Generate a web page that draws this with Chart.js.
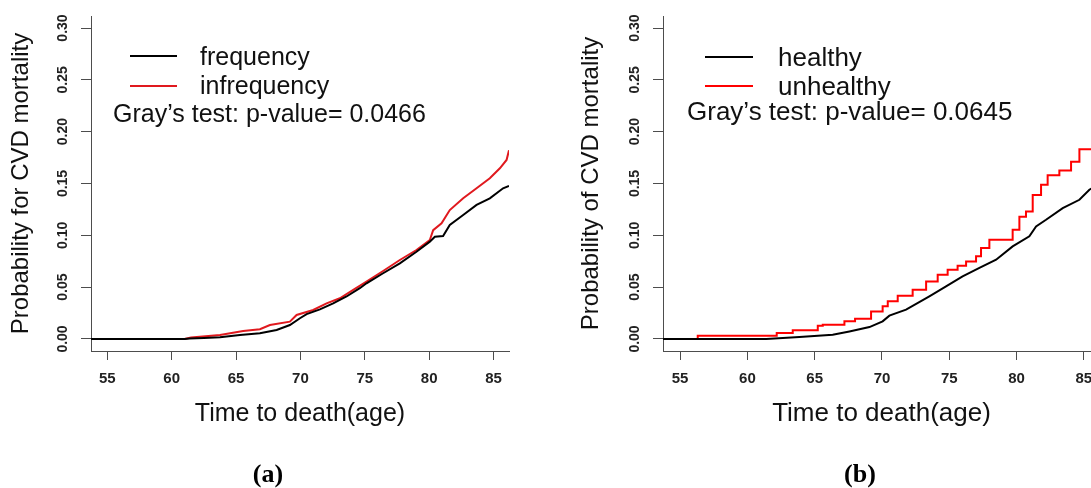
<!DOCTYPE html>
<html>
<head>
<meta charset="utf-8">
<script src="https://cdn.jsdelivr.net/npm/chart.js@4.4.1/dist/chart.umd.min.js"></script>
<style>
  html, body { margin: 0; padding: 0; background: #fff; width: 1091px; height: 488px; overflow: hidden; position: relative; }
  canvas { position: absolute; top: 0; }
  #chartA { left: 0; }
  #chartB { left: 570px; }
  .txt { position: absolute; font-family: "Liberation Sans", Arial, sans-serif; line-height: 1; color: #111; white-space: nowrap; }
  .key { position: absolute; height: 0; border-top: 2px solid #000; }
  .cap { position: absolute; font-family: "Liberation Serif", "Times New Roman", serif; font-weight: bold; font-size: 26px; line-height: 1; color: #000; transform: translateX(-50%); }
</style>
</head>
<body>
<canvas id="chartA" width="545" height="488"></canvas>
<canvas id="chartB" width="566" height="488"></canvas>

<!-- panel (a) key -->
<div class="key" style="left:130px; top:55px; width:47px; border-color:#000;"></div>
<div class="key" style="left:130px; top:85px; width:47px; border-color:#e0191e;"></div>
<div class="txt" style="left:200px; top:44px; font-size:25px;">frequency</div>
<div class="txt" style="left:200px; top:73px; font-size:25px;">infrequency</div>
<div class="txt" style="left:113px; top:101px; font-size:25px;">Gray’s test: p-value= 0.0466</div>
<div class="cap" style="left:268px; top:461px;">(a)</div>

<!-- panel (b) key -->
<div class="key" style="left:705px; top:56px; width:48px; border-color:#000;"></div>
<div class="key" style="left:705px; top:85px; width:48px; border-color:#ff0000;"></div>
<div class="txt" style="left:778px; top:44px; font-size:26px;">healthy</div>
<div class="txt" style="left:778px; top:73px; font-size:26px;">unhealthy</div>
<div class="txt" style="left:687px; top:98px; font-size:26px;">Gray’s test: p-value= 0.0645</div>
<div class="cap" style="left:860px; top:461px;">(b)</div>

<script>
// tick labels
const xTicks = [55, 60, 65, 70, 75, 80, 85];
const yTicks = [0, 0.05, 0.10, 0.15, 0.20, 0.25, 0.30];

// (a) frequency vs infrequency
const ageFrequency = [53.73, 61.0, 61.4, 62.5, 63.75, 65.3, 66.85, 68.15, 69.18, 69.96, 70.48, 71.51, 72.54, 73.58, 74.61, 75.13, 76.42, 77.72, 79.01, 80.05, 80.44, 81.08, 81.6, 82.64, 83.68, 84.71, 85.74, 86.2];
const probFrequency = [0, 0, 0.0005, 0.001, 0.0016, 0.0039, 0.0055, 0.0087, 0.0135, 0.020, 0.024, 0.0286, 0.0344, 0.041, 0.049, 0.0537, 0.0634, 0.073, 0.0842, 0.0939, 0.0987, 0.0994, 0.110, 0.1196, 0.1293, 0.1357, 0.1454, 0.1476];
const ageInfrequency = [53.73, 61.0, 61.5, 63.75, 65.55, 66.85, 67.63, 69.18, 69.7, 70.99, 72.03, 73.06, 74.1, 75.13, 76.42, 77.72, 79.01, 80.05, 80.31, 80.96, 81.6, 82.64, 83.68, 84.71, 85.49, 86.01, 86.2];
const probInfrequency = [0, 0, 0.0015, 0.0039, 0.0077, 0.0094, 0.0135, 0.0167, 0.0232, 0.028, 0.0344, 0.0393, 0.0473, 0.0553, 0.0656, 0.0762, 0.0858, 0.0955, 0.105, 0.1116, 0.1244, 0.1357, 0.1454, 0.155, 0.1647, 0.1727, 0.182];

// (b) healthy vs unhealthy
const ageHealthy = [53.73, 61.4, 63.87, 66.34, 67.58, 69.07, 70.05, 70.55, 71.79, 73.52, 74.76, 75.99, 77.24, 78.48, 79.71, 80.95, 81.45, 82.19, 83.43, 84.67, 85.41, 86.2];
const probHealthy = [0, 0, 0.002, 0.0041, 0.0073, 0.0115, 0.017, 0.0225, 0.0283, 0.0411, 0.0507, 0.0604, 0.0685, 0.0765, 0.0893, 0.099, 0.1086, 0.115, 0.1263, 0.1343, 0.144, 0.150];
const ageUnhealthy = [53.73, 56.31, 62.18, 63.37, 65.23, 65.6, 67.21, 68.0, 69.19, 70.05, 70.43, 71.17, 72.28, 73.28, 74.14, 74.88, 75.62, 76.25, 76.99, 77.36, 77.98, 79.71, 80.21, 80.7, 81.2, 81.82, 82.31, 83.18, 84.05, 84.67, 86.2];
const probUnhealthy = [0, 0.0032, 0.0058, 0.0083, 0.0128, 0.0138, 0.017, 0.0196, 0.0266, 0.0315, 0.0363, 0.0418, 0.0475, 0.0555, 0.062, 0.0668, 0.0707, 0.0748, 0.0797, 0.0877, 0.0957, 0.1054, 0.118, 0.123, 0.139, 0.1488, 0.158, 0.1626, 0.171, 0.183, 0.183];

const FONT = '"Liberation Sans", Arial, sans-serif';
const AXIS = '#4d4d4d';

function pairs(xs, ys) {
  return xs.map((x, i) => ({ x: x, y: ys[i] }));
}

function makeChart(id, yTitle, yAxisWidth, xTitleSize, datasets) {
  return new Chart(document.getElementById(id), {
    type: 'line',
    data: { datasets: datasets },
    options: {
      responsive: false,
      animation: false,
      layout: { padding: { top: 16, right: 36, left: 0, bottom: 0 } },
      plugins: { legend: { display: false }, tooltip: { enabled: false } },
      elements: { point: { radius: 0 }, line: { borderWidth: 2, tension: 0 } },
      scales: {
        x: {
          type: 'linear',
          min: 53.73,
          max: 86.2,
          afterBuildTicks: (s) => { s.ticks = xTicks.map((v) => ({ value: v })); },
          afterFit: (s) => { s.height = 137; },
          grid: { drawOnChartArea: false, tickLength: 9, color: AXIS, lineWidth: 1 },
          border: { color: AXIS, width: 1 },
          ticks: {
            callback: (v) => String(v),
            font: { family: FONT, size: 15, weight: 'bold' },
            color: '#222',
            padding: 10,
            maxRotation: 0
          },
          title: {
            display: true,
            text: 'Time to death(age)',
            font: { family: FONT, size: xTitleSize },
            color: '#111',
            padding: { top: 0, bottom: 59 }
          }
        },
        y: {
          min: -0.0116,
          max: 0.3116,
          afterBuildTicks: (s) => { s.ticks = yTicks.map((v) => ({ value: v })); },
          afterFit: (s) => { s.width = yAxisWidth; },
          grid: { drawOnChartArea: false, tickLength: 10, color: AXIS, lineWidth: 1 },
          border: { color: AXIS, width: 1 },
          ticks: {
            callback: (v) => v.toFixed(2),
            font: { family: FONT, size: 14, weight: 'bold' },
            color: '#222',
            padding: 4,
            minRotation: 90,
            maxRotation: 90,
            crossAlign: 'center'
          },
          title: {
            display: true,
            text: yTitle,
            font: { family: FONT, size: 24 },
            color: '#111',
            padding: { top: 7, bottom: 0 }
          }
        }
      }
    }
  });
}

makeChart('chartA', 'Probability for CVD mortality', 91, 25, [
  { label: 'frequency', data: pairs(ageFrequency, probFrequency), borderColor: '#000' },
  { label: 'infrequency', data: pairs(ageInfrequency, probInfrequency), borderColor: '#e0191e' }
]);

makeChart('chartB', 'Probability of CVD mortality', 93, 26, [
  { label: 'healthy', data: pairs(ageHealthy, probHealthy), borderColor: '#000' },
  { label: 'unhealthy', data: pairs(ageUnhealthy, probUnhealthy), borderColor: '#ff0000', stepped: true }
]);
</script>
</body>
</html>
